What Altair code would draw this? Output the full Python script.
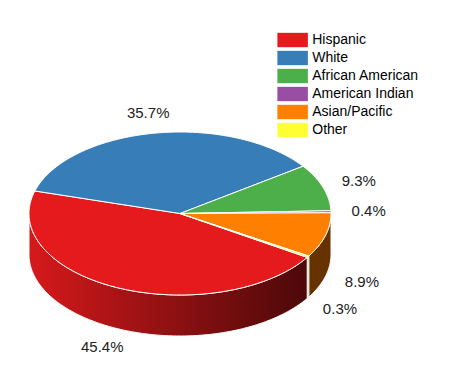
import math
import altair as alt
import pandas as pd

# ---- data ----
categories = ["Hispanic", "White", "African American", "American Indian", "Asian/Pacific", "Other"]
values = [45.4, 35.7, 9.3, 0.4, 8.9, 0.3]
labels = ["45.4%", "35.7%", "9.3%", "0.4%", "8.9%", "0.3%"]
colors = ["#E41A1C", "#377EB8", "#4DAF4A", "#984EA3", "#FF7F00", "#FFFF33"]

# ---- geometry / style ----
W, H = 445, 366
CX, CY, RX, RY, DEPTH = 172.0, 205.5, 151.0, 81.5, 41.0
START = 32.6          # screen angle (deg, clockwise) where the first slice begins
LABEL_R = 1.25
SYM = 232.6           # legend symbol size (sqrt = 15.25)
HALF = math.sqrt(SYM) / 2


def darken(hexc, f):
    r, g, b = (int(hexc[i:i + 2], 16) for i in (1, 3, 5))
    return "#%02x%02x%02x" % (int(r * f), int(g * f), int(b * f))


def pt(a, dy=0.0):
    t = math.radians(a)
    return CX + RX * math.cos(t), CY + RY * math.sin(t) + dy


def arc(a0, a1, dy=0.0):
    n = max(2, int(abs(a1 - a0)) + 2)
    return [pt(a0 + (a1 - a0) * k / (n - 1), dy) for k in range(n)]


total = sum(values)
tops, sides, redside, lab = [], [], [], []
cum = 0.0
for cat, v, lb, col in zip(categories, values, labels, colors):
    a0 = START + 360.0 * cum / total
    a1 = a0 + 360.0 * v / total
    cum += v
    # top face
    poly = [(CX, CY)] + arc(a0, a1) + [(CX, CY)]
    for i, (x, y) in enumerate(poly):
        tops.append({"cat": cat, "i": i, "x": x, "y": y})
    # front side wall (visible for screen angles 0..180)
    for lo in (0.0, 360.0):
        s, e = max(a0, lo), min(a1, lo + 180.0)
        if e > s:
            poly = arc(s, e) + arc(e, s, DEPTH)
            poly.append(poly[0])
            rows = [{"key": cat + str(lo), "i": i, "x": x, "y": y,
                     "side": darken(col, 0.4)} for i, (x, y) in enumerate(poly)]
            (redside if cat == "Hispanic" else sides).extend(rows)
    # label
    m = (a0 + a1) / 2.0
    lx, ly = CX + LABEL_R * RX * math.cos(math.radians(m)), CY + LABEL_R * RY * math.sin(math.radians(m))
    if math.sin(math.radians(m)) > 0:
        ly += DEPTH
    lab.append({"cat": cat, "label": lb, "x": lx, "y": ly})

xs = alt.Scale(domain=[0, W], nice=False, zero=False)
ys = alt.Scale(domain=[0, H], nice=False, zero=False, reverse=True)
X = alt.X("x:Q", scale=xs, axis=None)
Y = alt.Y("y:Q", scale=ys, axis=None)

side_layer = alt.Chart(pd.DataFrame(sides)).mark_line(
    stroke="white", strokeWidth=1, strokeJoin="round"
).encode(x=X, y=Y, order="i:Q", detail="key:N",
         fill=alt.Fill("side:N", scale=None))

red_layer = alt.Chart(pd.DataFrame(redside)).mark_line(
    stroke="white", strokeWidth=1, strokeJoin="round",
    fill=alt.Gradient(gradient="linear",
                      stops=[alt.GradientStop(color="#D6191B", offset=0),
                             alt.GradientStop(color="#4C0809", offset=1)],
                      x1=0, x2=1, y1=0, y2=0)
).encode(x=X, y=Y, order="i:Q", detail="key:N")

top_layer = alt.Chart(pd.DataFrame(tops)).mark_line(
    stroke="white", strokeWidth=1, strokeJoin="round"
).encode(
    x=X, y=Y, order="i:Q",
    fill=alt.Fill("cat:N", sort=categories,
                  scale=alt.Scale(domain=categories, range=colors),
                  legend=alt.Legend(
                      title=None, orient="none",
                      legendX=269 + HALF, legendY=24,
                      symbolType="M-2,-0.94L2,-0.94L2,0.94L-2,0.94Z",
                      symbolSize=SYM, symbolStrokeWidth=0, symbolOpacity=1,
                      labelFont="Liberation Sans", labelFontSize=14,
                      labelColor="#000000", labelOffset=4 + HALF,
                      padding=0, rowPadding=2)),
)

text_layer = alt.Chart(pd.DataFrame(lab)).mark_text(
    font="Liberation Sans", fontSize=15, color="#222222",
    align="center", baseline="middle"
).encode(x=X, y=Y, text="label:N")

chart = alt.layer(side_layer, red_layer, top_layer, text_layer).properties(
    width=W, height=H, padding=0, autosize=alt.AutoSizeParams(type="none")
).configure_view(stroke=None)

chart.save("out.html", embed_options={"renderer": "svg", "actions": False})
